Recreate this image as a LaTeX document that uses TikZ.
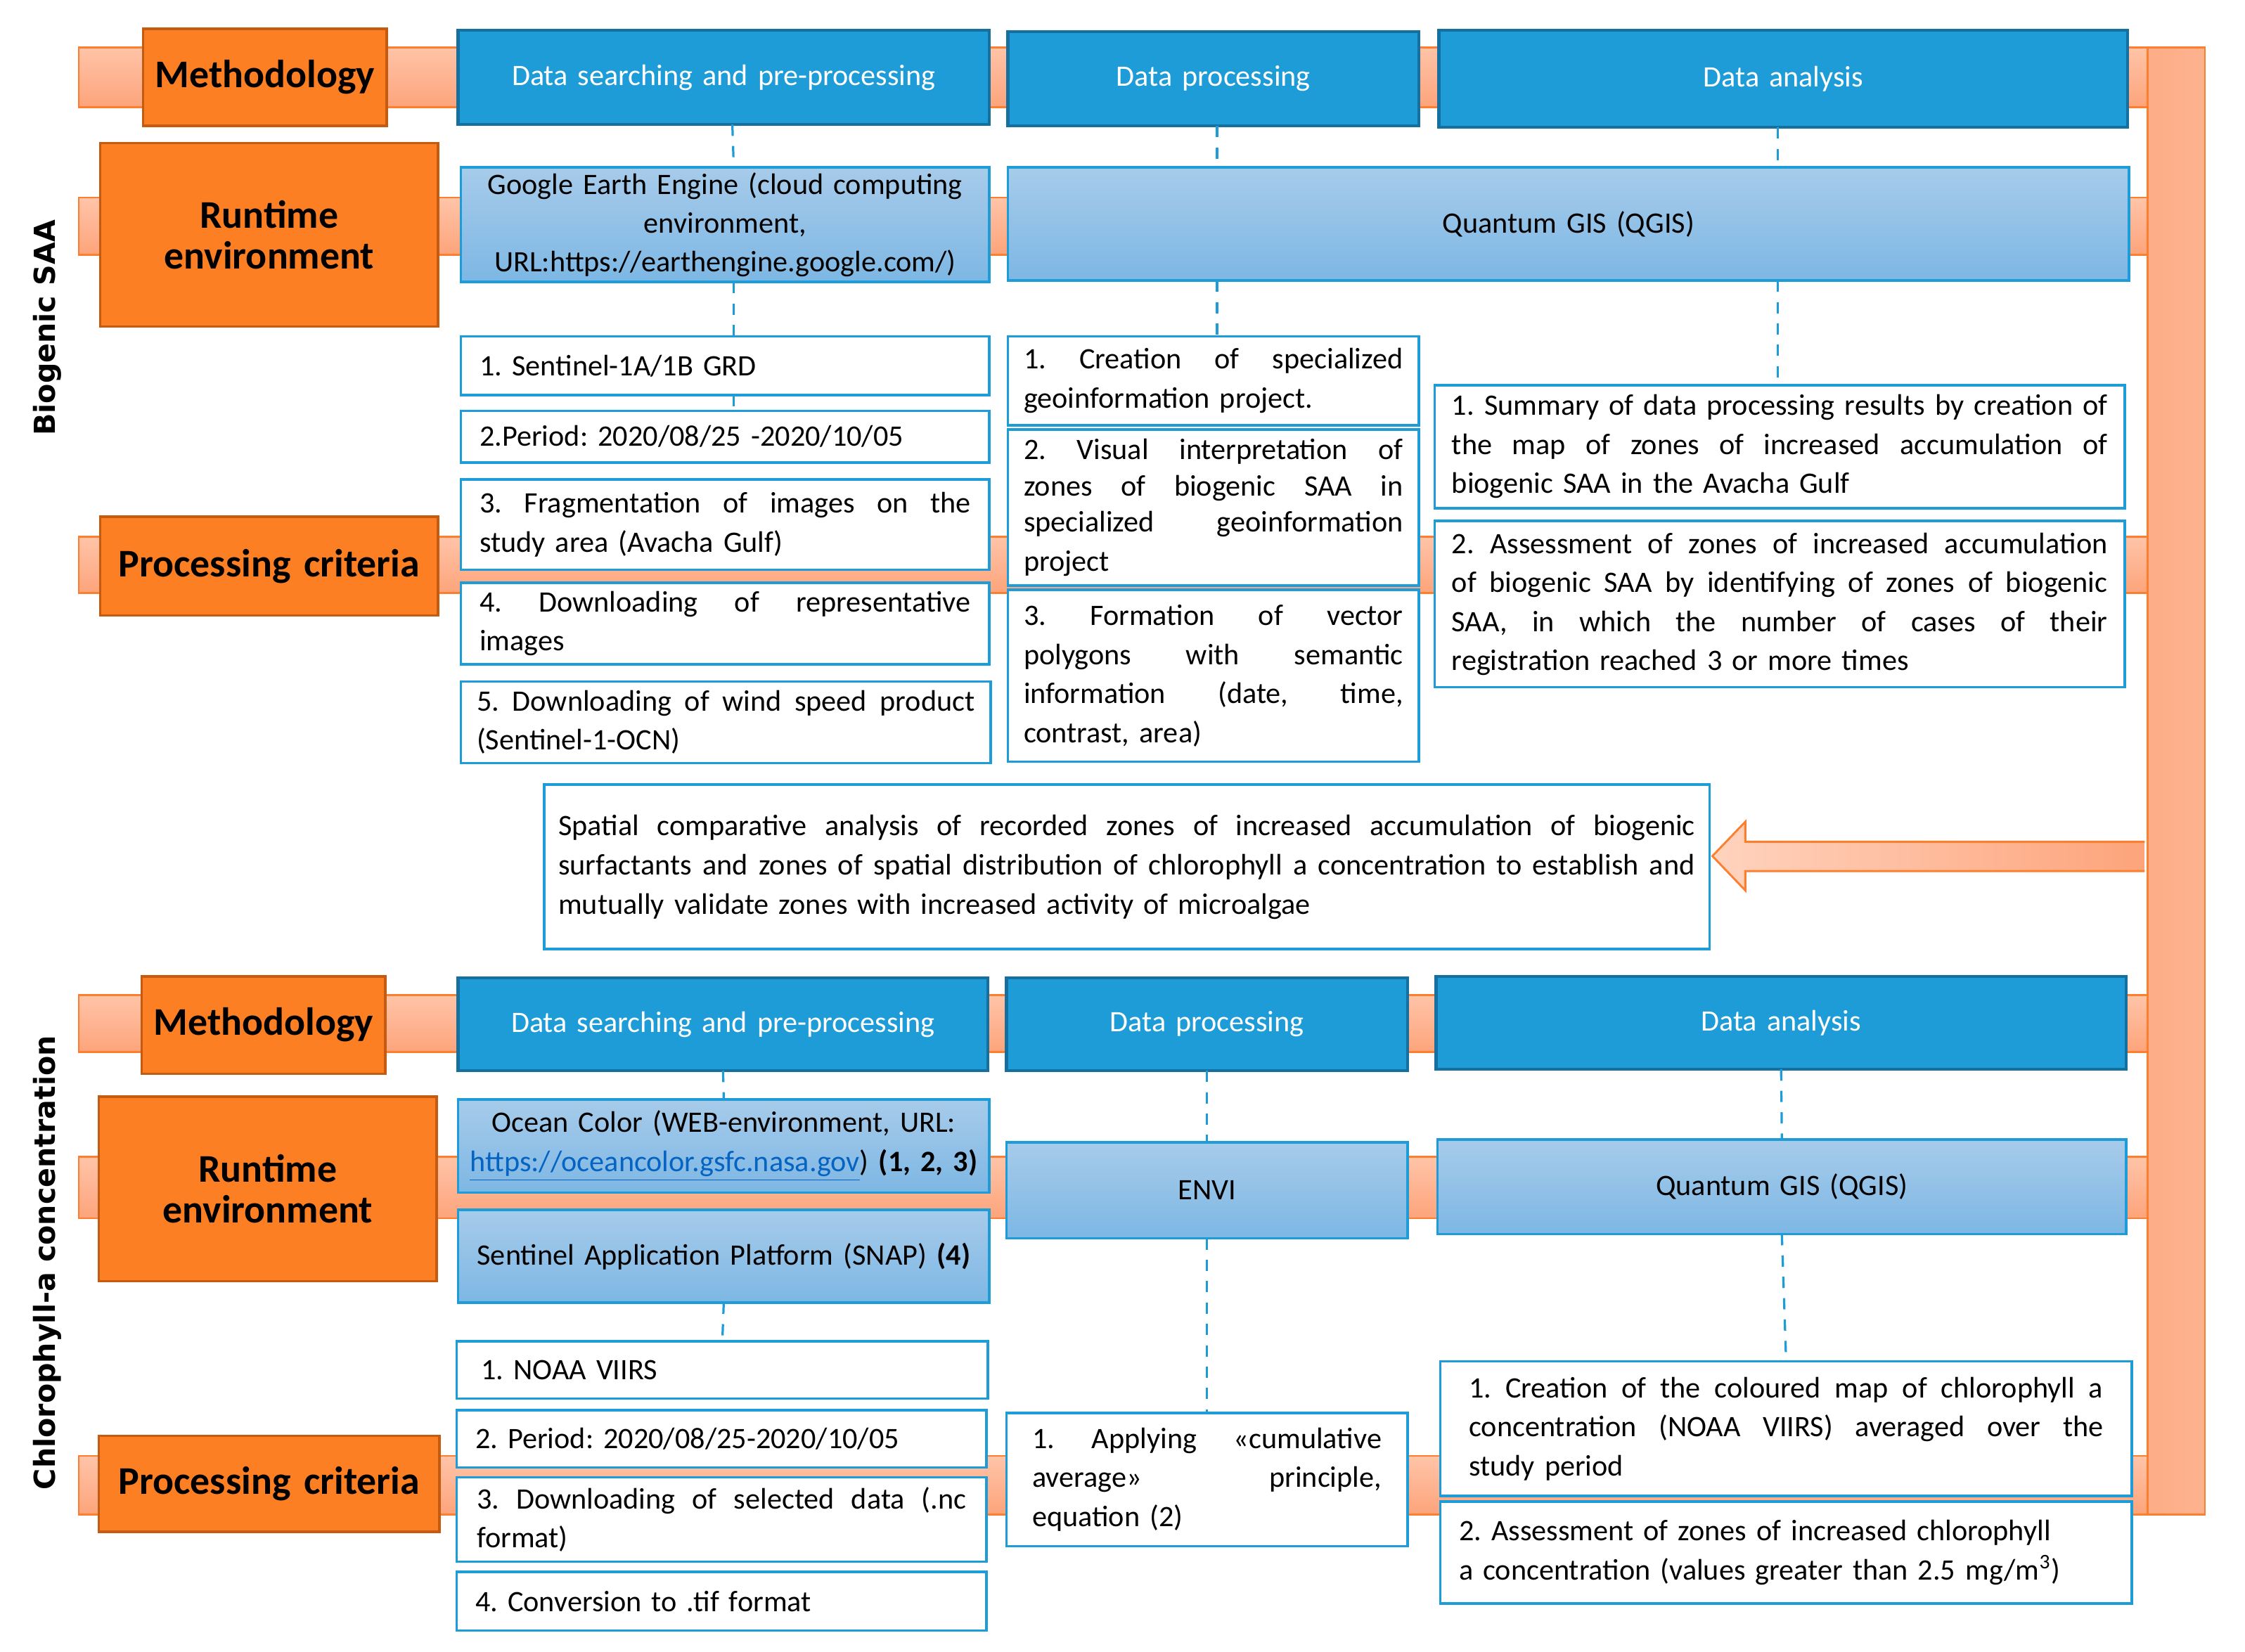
\documentclass[tikz,border=0pt]{standalone}
\usepackage{fontspec}
\setmainfont{Carlito}
\newfontfamily\vfont{DejaVu Sans}
\usetikzlibrary{calc}
\definecolor{dblue}{HTML}{1E9CD8}
\definecolor{dblueb}{HTML}{16709F}
\definecolor{lbtop}{HTML}{A7CBEA}
\definecolor{lbbot}{HTML}{7DB7E4}
\definecolor{obox}{HTML}{FD7F23}
\definecolor{oboxb}{HTML}{C55A11}
\definecolor{bandb}{HTML}{FB7F2E}
\definecolor{bandt}{HTML}{FFC4A8}
\definecolor{bandbt}{HTML}{FDA47B}
\definecolor{vband}{HTML}{FDAE88}
\definecolor{arrl}{HTML}{FFD3BE}
\definecolor{linkblue}{HTML}{0563C1}
% justified line: words spread over the full text width
\def\jlw#1 #2\jlend{#1\ifx\relax#2\relax\else\hfil\jlw#2\jlend\fi}
\newcommand\jl[1]{\leavevmode\hbox to \tw cm{\jlw#1 \jlend}}
\newcommand\bx[8]{%
  \pgfmathsetmacro\bw{(#5-#3)*0.02}%
  \pgfmathsetmacro\bh{(#6-#4)*0.02}%
  \pgfmathsetmacro\tw{(#5-#3-2*#7)*0.02}%
  \node[#1, minimum width=\bw cm, minimum height=\bh cm, text width=\tw cm] (#2) at ({(#3+#5)/2},{(#4+#6)/2}) {#8};}
\tikzset{
  base/.style={rectangle, inner sep=0pt, outer sep=0pt, font=\fontsize{11.8}{15.5}\selectfont\frenchspacing},
  headbox/.style={base, fill=obox, draw=oboxb, line width=1pt, align=center, font=\fontsize{15.6}{16.3}\selectfont\bfseries},
  titlebox/.style={base, fill=dblue, draw=dblueb, line width=1.2pt, align=center, text=white},
  envbox/.style={base, top color=lbtop, bottom color=lbbot, draw=dblue, line width=1pt, align=center},
  itembox/.style={base, fill=white, draw=dblue, line width=1pt, align=left},
  band/.style={draw=bandb, line width=0.8pt, top color=bandt, bottom color=bandbt},
  conn/.style={draw=dblue, line width=0.9pt, dash pattern=on 4.5pt off 4pt},
  vlabel/.style={rotate=90, font=\vfont\fontsize{11.5}{13}\selectfont\bfseries, inner sep=0pt},
}
\begin{document}
\begin{tikzpicture}[x=0.02cm, y=-0.02cm]
\useasboundingbox (0,0) rectangle (1568,1154);
% bands
\draw[band] (55,33) rectangle (1500,75);
\draw[band] (55,138) rectangle (1500,178);
\draw[band] (55,375) rectangle (1500,414);
\draw[band] (55,695) rectangle (1500,735);
\draw[band] (55,808) rectangle (1500,851);
\draw[band] (55,1017) rectangle (1500,1058);
\draw[draw=bandb, line width=0.8pt, left color=vband!92!bandbt, right color=vband!80!bandt] (1500,33) rectangle (1540,1058);
% arrow
\draw[draw=bandb, line width=0.8pt, left color=arrl, right color=bandbt]
  (1498,588) -- (1219,588) -- (1219,574) -- (1196,598) -- (1219,622) -- (1219,608.5) -- (1498,608.5);
% vertical labels
\node[vlabel] (lab1) at (33,229) {Biogenic SAA};
\node[vlabel] (lab2) at (33,882) {Chlorophyll-a concentration};
% ===== top section
\bx{headbox}{m1}{100}{20}{270}{88}{5}{Methodology}
\bx{headbox}{r1}{70}{100}{306}{228}{5}{Runtime\\environment}
\bx{headbox}{p1}{70}{361}{306}{430}{5}{Processing criteria}
\bx{titlebox}{dsp1}{320}{21}{691}{87}{5}{Data searching and pre-processing}
\bx{titlebox}{dp1}{704}{22}{991}{88}{5}{Data processing}
\bx{titlebox}{da1}{1005}{21}{1486}{89}{5}{Data analysis}
\bx{envbox}{gee}{322}{117}{691}{197}{5}{Google Earth Engine (cloud computing\\environment,\\URL:https://earthengine.google.com/)}
\bx{envbox}{qgis1}{704}{117}{1487}{196}{5}{Quantum GIS (QGIS)}
\bx{itembox}{s1}{322}{235}{691}{276}{13}{1. Sentinel-1A/1B GRD}
\bx{itembox}{s2}{322}{287}{691}{323}{13}{2.Period: 2020/08/25 -2020/10/05}
\bx{itembox}{s3}{322}{335}{691}{398}{13}{\jl{3. Fragmentation of images on the}\\study area (Avacha Gulf)}
\bx{itembox}{s4}{322}{407}{691}{464}{13}{\jl{4. Downloading of representative}\\images}
\bx{itembox}{s5}{322}{476}{692}{533}{11}{\jl{5. Downloading of wind speed product}\\(Sentinel-1-OCN)}
\bx{itembox}{c1}{704}{235}{991}{297}{11}{\jl{1. Creation of specialized}\\geoinformation project.}
\bx{itembox}{c2}{704}{300}{991}{409}{11}{\fontsize{11.8}{14.4}\selectfont\jl{2. Visual interpretation of}\\\jl{zones of biogenic SAA in}\\\jl{specialized geoinformation}\\project}
\bx{itembox}{c3}{704}{412}{991}{532}{11}{\jl{3. Formation of vector}\\\jl{polygons with semantic}\\\jl{information (date, time,}\\contrast, area)}
\bx{itembox}{a1}{1002}{269}{1484}{355}{12}{\jl{1. Summary of data processing results by creation of}\\\jl{the map of zones of increased accumulation of}\\biogenic SAA in the Avacha Gulf}
\bx{itembox}{a2}{1002}{364}{1484}{480}{12}{\jl{2. Assessment of zones of increased accumulation}\\\jl{of biogenic SAA by identifying of zones of biogenic}\\\jl{SAA, in which the number of cases of their}\\registration reached 3 or more times}
% connectors top
\draw[conn] ([xshift=0.12cm]dsp1.south) -- ([xshift=0.12cm]gee.north);
\draw[conn] ([xshift=0.12cm]gee.south) -- ([xshift=0.12cm]s1.north);
\draw[conn] ([xshift=0.12cm]s1.south) -- ([xshift=0.12cm]s2.north);
\draw[conn] ([xshift=0.05cm]dp1.south) -- ([xshift=0.05cm]dp1.south |- qgis1.north);
\draw[conn] ([xshift=0.05cm]qgis1.south -| c1.north) -- ([xshift=0.05cm]c1.north);
\draw[conn] ([xshift=-0.08cm]da1.south) -- ([xshift=-0.08cm]da1.south |- qgis1.north);
\draw[conn] ([xshift=-0.08cm]qgis1.south -| da1.south) -- ([xshift=-0.08cm]da1.south |- a1.north);
% middle
\bx{itembox}{mid}{380}{548}{1194}{663}{10}{\fontsize{11.8}{15.8}\selectfont\jl{Spatial comparative analysis of recorded zones of increased accumulation of biogenic}\\\jl{surfactants and zones of spatial distribution of chlorophyll a concentration to establish and}\\mutually validate zones with increased activity of microalgae}
% ===== bottom section
\bx{headbox}{m2}{99}{682}{269}{750}{5}{Methodology}
\bx{headbox}{r2}{69}{766}{305}{895}{5}{Runtime\\environment}
\bx{headbox}{p2}{69}{1003}{307}{1070}{5}{Processing criteria}
\bx{titlebox}{dsp2}{320}{683}{690}{748}{5}{Data searching and pre-processing}
\bx{titlebox}{dp2}{703}{683}{983}{748}{5}{Data processing}
\bx{titlebox}{da2}{1003}{682}{1485}{747}{5}{Data analysis}
\bx{envbox}{oc}{320}{768}{691}{833}{5}{Ocean Color (WEB-environment, URL:\\{\color{linkblue}\underline{https://oceancolor.gsfc.nasa.gov}}) \textbf{(1, 2, 3)}}
\bx{envbox}{snap}{320}{845}{691}{910}{5}{Sentinel Application Platform (SNAP) \textbf{(4)}}
\bx{envbox}{envi}{703}{798}{983}{865}{5}{ENVI}
\bx{envbox}{qgis2}{1004}{796}{1485}{862}{5}{Quantum GIS (QGIS)}
\bx{itembox}{n1}{319}{937}{690}{977}{17}{1. NOAA VIIRS}
\bx{itembox}{n2}{319}{985}{689}{1025}{13}{2. Period: 2020/08/25-2020/10/05}
\bx{itembox}{n3}{319}{1032}{689}{1091}{14}{\jl{3. Downloading of selected data (.nc}\\format)}
\bx{itembox}{n4}{319}{1098}{689}{1139}{13}{4. Conversion to .tif format}
\bx{itembox}{ap}{703}{987}{983}{1080}{18}{\jl{1. Applying «cumulative}\\\jl{average» principle,}\\equation (2)}
\bx{itembox}{b1}{1006}{951}{1489}{1045}{20}{\jl{1. Creation of the coloured map of chlorophyll a}\\\jl{concentration (NOAA VIIRS) averaged over the}\\study period}
\bx{itembox}{b2}{1006}{1049}{1489}{1120}{13}{2. Assessment of zones of increased chlorophyll\\a concentration (values greater than 2.5 mg/m\textsuperscript{3})}
% connectors bottom
\draw[conn] (dsp2.south) -- (oc.north);
\draw[conn] (snap.south) -- (n1.north);
\draw[conn] (dp2.south) -- (envi.north);
\draw[conn] (envi.south) -- (ap.north);
\draw[conn] (da2.south) -- (qgis2.north);
\draw[conn] (qgis2.south) -- (b1.north);
\end{tikzpicture}
\end{document}
